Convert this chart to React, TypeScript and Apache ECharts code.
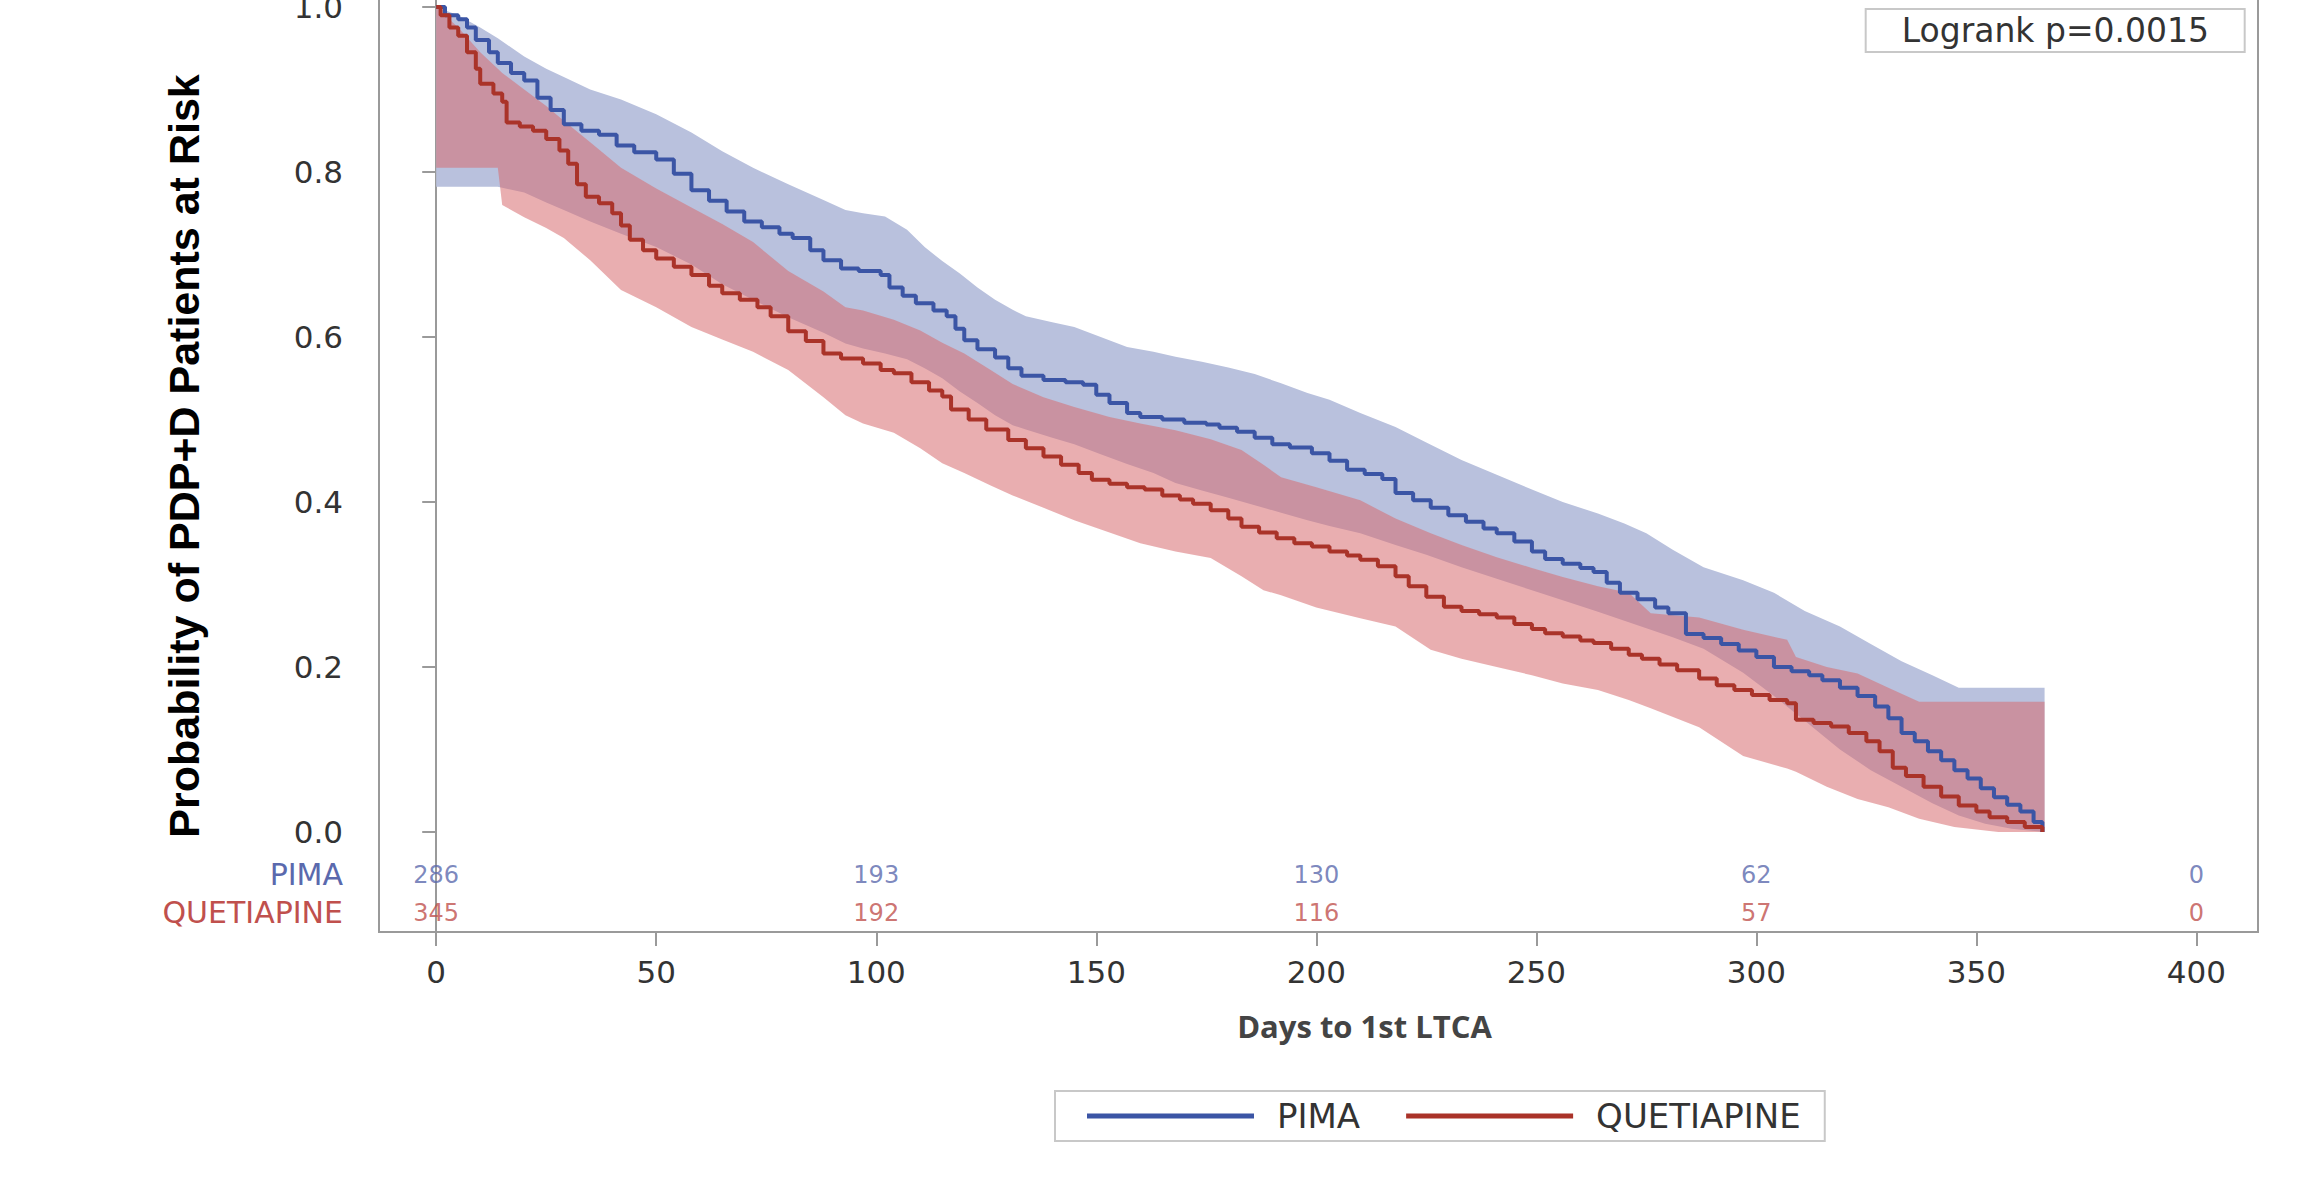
import React, { useEffect, useRef } from "react";
import * as echarts from "echarts";

// ---- Data ----
const pimaCurve: number[][] = [
  [0,1.0],[2,0.99],[5,0.985],[7,0.975],[9,0.96],[12,0.945],[14,0.932],[17,0.92],[20,0.911],[23,0.89],
  [26,0.875],[29,0.858],[33,0.85],[37,0.845],[41,0.832],[45,0.824],[50,0.815],[54,0.798],[58,0.778],[62,0.765],
  [66,0.752],[70,0.74],[74,0.733],[78,0.725],[81,0.72],[85,0.705],[88,0.693],[92,0.683],[96,0.68],[101,0.675],
  [103,0.66],[106,0.65],[109,0.641],[113,0.632],[116,0.625],[118,0.61],[120,0.596],[123,0.585],[127,0.575],[130,0.562],
  [133,0.553],[138,0.548],[143,0.545],[147,0.542],[150,0.53],[153,0.52],[157,0.508],[160,0.503],[165,0.5],[170,0.496],
  [175,0.494],[178,0.49],[182,0.485],[186,0.478],[190,0.47],[194,0.466],[199,0.459],[203,0.45],[207,0.439],[211,0.434],
  [215,0.428],[218,0.411],[222,0.402],[226,0.393],[230,0.384],[234,0.376],[238,0.368],[241,0.362],[245,0.352],[249,0.34],
  [252,0.331],[256,0.325],[260,0.32],[263,0.315],[266,0.302],[269,0.29],[273,0.282],[277,0.272],[280,0.265],[284,0.24],
  [288,0.235],[292,0.228],[296,0.22],[300,0.212],[304,0.2],[308,0.195],[312,0.19],[315,0.184],[319,0.175],[323,0.165],
  [327,0.152],[330,0.138],[333,0.12],[336,0.11],[339,0.098],[342,0.087],[345,0.075],[348,0.065],[351,0.053],[354,0.042],
  [357,0.033],[360,0.025],[363,0.012],[365,0.0]
];

const quetCurve: number[][] = [
  [0,1.0],[1,0.99],[3,0.975],[5,0.965],[7,0.945],[9,0.925],[10,0.907],[13,0.895],[15,0.885],[16,0.86],
  [19,0.855],[22,0.85],[25,0.84],[28,0.826],[30,0.81],[32,0.785],[34,0.77],[37,0.762],[40,0.75],[42,0.735],
  [44,0.718],[47,0.705],[50,0.695],[54,0.685],[58,0.675],[62,0.662],[65,0.653],[69,0.645],[73,0.636],[76,0.625],
  [80,0.607],[84,0.595],[88,0.58],[92,0.574],[97,0.568],[101,0.56],[104,0.556],[108,0.545],[112,0.535],[115,0.528],
  [117,0.512],[121,0.5],[125,0.488],[130,0.475],[134,0.465],[138,0.455],[142,0.445],[146,0.435],[149,0.427],[153,0.422],
  [157,0.418],[161,0.415],[165,0.408],[169,0.403],[172,0.398],[176,0.39],[180,0.38],[183,0.37],[187,0.363],[191,0.356],
  [195,0.35],[199,0.346],[203,0.34],[207,0.335],[210,0.33],[214,0.322],[218,0.31],[221,0.298],[225,0.285],[229,0.273],
  [233,0.268],[237,0.264],[241,0.26],[245,0.252],[249,0.246],[252,0.241],[256,0.237],[260,0.232],[263,0.229],[267,0.222],
  [271,0.215],[274,0.21],[278,0.203],[282,0.196],[287,0.186],[291,0.178],[295,0.172],[299,0.166],[303,0.16],[307,0.156],
  [309,0.136],[313,0.132],[317,0.128],[321,0.12],[325,0.11],[328,0.098],[331,0.078],[334,0.068],[338,0.055],[342,0.043],
  [346,0.032],[350,0.025],[353,0.018],[357,0.012],[361,0.006],[365,0.0]
];

// [day, lower, upper]
const pimaBand: number[][] = [
  [0,0.782,1.0],[5,0.782,0.99],[10,0.782,0.975],[14,0.782,0.962],[20,0.775,0.94],[25,0.763,0.925],[29,0.754,0.915],
  [35,0.74,0.9],[42,0.725,0.888],[50,0.709,0.87],[58,0.688,0.848],[65,0.664,0.825],[72,0.645,0.805],[80,0.624,0.785],
  [88,0.605,0.766],[93,0.592,0.754],[97,0.586,0.75],[102,0.58,0.746],[107,0.573,0.73],[111,0.562,0.709],[115,0.55,0.692],
  [119,0.534,0.677],[123,0.52,0.66],[127,0.505,0.645],[131,0.493,0.633],[134,0.488,0.625],[140,0.478,0.618],[145,0.47,0.612],
  [151,0.458,0.6],[157,0.446,0.588],[163,0.435,0.582],[168,0.423,0.576],[174,0.414,0.57],[180,0.405,0.563],[186,0.396,0.555],
  [192,0.387,0.544],[198,0.378,0.532],[203,0.371,0.524],[210,0.362,0.508],[218,0.348,0.491],[225,0.336,0.472],[233,0.321,0.451],
  [241,0.307,0.433],[249,0.293,0.415],[256,0.281,0.4],[264,0.267,0.386],[270,0.256,0.374],[275,0.247,0.362],[281,0.236,0.342],
  [288,0.222,0.321],[297,0.193,0.305],[304,0.165,0.29],[311,0.135,0.268],[319,0.1,0.249],[326,0.075,0.228],[333,0.055,0.207],
  [340,0.035,0.19],[346,0.02,0.175],[352,0.01,0.175],[358,0.004,0.175],[365.5,0,0.175]
];

const quetBand: number[][] = [
  [0,0.805,1.0],[5,0.805,0.975],[10,0.805,0.945],[14,0.805,0.925],[15,0.76,0.92],[20,0.745,0.9],[25,0.732,0.88],
  [29,0.72,0.862],[35,0.693,0.836],[42,0.657,0.805],[50,0.636,0.78],[58,0.612,0.757],[65,0.597,0.737],[72,0.582,0.715],
  [80,0.56,0.68],[88,0.527,0.655],[93,0.505,0.636],[97,0.495,0.632],[104,0.484,0.621],[110,0.465,0.608],[115,0.447,0.593],
  [120,0.435,0.58],[126,0.42,0.56],[131,0.408,0.543],[138,0.393,0.527],[145,0.378,0.515],[153,0.363,0.503],[160,0.35,0.495],
  [168,0.34,0.487],[176,0.332,0.476],[183,0.31,0.463],[188,0.293,0.445],[192,0.287,0.43],[200,0.272,0.418],[210,0.259,0.402],
  [218,0.249,0.38],[226,0.221,0.362],[233,0.21,0.348],[241,0.2,0.333],[249,0.19,0.32],[256,0.18,0.309],[264,0.172,0.298],
  [271,0.16,0.29],[276,0.15,0.265],[287,0.127,0.26],[297,0.092,0.245],[307,0.077,0.233],[309,0.073,0.212],[316,0.055,0.2],
  [323,0.04,0.192],[330,0.03,0.175],[337,0.016,0.158],[345,0.006,0.158],[355,0,0.158],[365.5,0,0.158]
];

const riskDays = [0, 100, 200, 300, 400];
const pimaRisk = [286, 193, 130, 62, 0];
const quetRisk = [345, 192, 116, 57, 0];

const xTicks = [0, 50, 100, 150, 200, 250, 300, 350, 400];
const yTicks = [0, 0.2, 0.4, 0.6, 0.8, 1.0];

const groupNames = ["PIMA", "QUETIAPINE"];
const logrankText = "Logrank p=0.0015";

// ---- Styling ----
const BLUE_LINE = "#3b55a5";
const RED_LINE = "#aa3329";
const BLUE_TEXT = "#5a69ad";
const RED_TEXT = "#c0504d";
const BLUE_BAND = "#b9c1dd";
const RED_BAND = "rgba(215,108,112,0.55)";
const AXIS_GREY = "#9a9a9a";
const PIMA_ROW_Y = -0.052;
const QUET_ROW_Y = -0.098;

// Confidence band drawn as one polygon, positioned through the axes (api.coord)
function bandSeries(band: number[][], color: string) {
  return {
    type: "custom",
    silent: true,
    z: 1,
    data: [[band[0][0], band[0][2]]],
    encode: { x: 0, y: 1 },
    renderItem: (params: any, api: any) => {
      if (params.dataIndex !== 0) return null;
      const upper = band.map((b) => api.coord([b[0], b[2]]));
      const lower = band.slice().reverse().map((b) => api.coord([b[0], b[1]]));
      return {
        type: "polygon",
        shape: { points: upper.concat(lower) },
        style: { fill: color, stroke: "none" },
      };
    },
  };
}

function riskSeries(values: number[], rowY: number, color: string) {
  return {
    type: "scatter",
    silent: true,
    clip: false,
    symbolSize: 1,
    itemStyle: { color: "rgba(0,0,0,0)" },
    data: riskDays.map((d, i) => [d, rowY, values[i]]),
    label: {
      show: true,
      position: "inside",
      formatter: (p: any) => String(p.value[2]),
      color,
      fontSize: 24,
    },
    z: 6,
  };
}

export default function App() {
  const ref = useRef<HTMLDivElement>(null);

  useEffect(() => {
    if (!ref.current) return;
    const chart = echarts.init(ref.current, null, { renderer: "svg" });

    const option: any = {
      animation: false,
      backgroundColor: "#ffffff",
      textStyle: { fontFamily: '"DejaVu Sans", sans-serif' },
      title: {
        text: logrankText,
        right: 60,
        top: 9,
        padding: [5, 36],
        borderColor: "#c8c8c8",
        borderWidth: 2,
        textStyle: { fontSize: 33, fontWeight: "normal", color: "#333", fontFamily: '"DejaVu Sans", sans-serif' },
      },
      legend: {
        data: groupNames,
        left: 1055,
        top: 1091,
        padding: [8, 24, 8, 32],
        itemGap: 46,
        icon: "rect",
        itemWidth: 167,
        itemHeight: 5,
        borderColor: "#c8c8c8",
        borderWidth: 2,
        textStyle: { fontSize: 34, color: "#333", padding: [0, 0, 0, 18] },
      },
      grid: {
        left: 379,
        right: 47,
        top: -20,
        bottom: 245,
        show: true,
        borderColor: AXIS_GREY,
        borderWidth: 2,
        containLabel: false,
        outerBoundsMode: "none",
      },
      xAxis: {
        type: "value",
        min: -13,
        max: 414,
        name: "Days to 1st LTCA",
        nameLocation: "middle",
        nameGap: 78,
        nameMoveOverlap: false,
        nameTextStyle: {
          fontSize: 31,
          fontWeight: "bold",
          color: "#444",
          fontFamily: '"Open Sans", sans-serif',
          padding: [0, 0, 0, 92],
        },
        axisLine: { show: true, onZero: false, lineStyle: { color: AXIS_GREY, width: 2 } },
        axisTick: { show: true, length: 14, customValues: xTicks, lineStyle: { color: AXIS_GREY, width: 2 } },
        axisLabel: { customValues: xTicks, margin: 24, fontSize: 31, color: "#333" },
        splitLine: { show: false },
      },
      yAxis: {
        type: "value",
        min: -0.1212,
        max: 1.0327,
        name: "Probability of PDP+D Patients at Risk",
        nameLocation: "middle",
        nameGap: 174,
        nameMoveOverlap: false,
        nameTextStyle: {
          fontSize: 43,
          fontWeight: "bold",
          color: "#000",
          fontFamily: '"Liberation Sans", Arial, sans-serif',
        },
        axisLine: { show: true, lineStyle: { color: AXIS_GREY, width: 2 } },
        axisTick: { show: true, length: 14, customValues: yTicks, lineStyle: { color: AXIS_GREY, width: 2 } },
        axisLabel: {
          customValues: [QUET_ROW_Y, PIMA_ROW_Y, ...yTicks],
          margin: 36,
          fontSize: 31,
          color: "#333",
          formatter: (v: number) => {
            if (Math.abs(v - PIMA_ROW_Y) < 1e-6) return "{p|" + groupNames[0] + "}";
            if (Math.abs(v - QUET_ROW_Y) < 1e-6) return "{q|" + groupNames[1] + "}";
            return v.toFixed(1);
          },
          rich: {
            p: { color: BLUE_TEXT, fontSize: 30 },
            q: { color: RED_TEXT, fontSize: 30 },
          },
        },
        splitLine: { show: false },
      },
      series: [
        bandSeries(pimaBand, BLUE_BAND),
        bandSeries(quetBand, RED_BAND),
        {
          name: groupNames[0],
          type: "line",
          step: "end",
          symbol: "none",
          data: pimaCurve,
          lineStyle: { color: BLUE_LINE, width: 4 },
          itemStyle: { color: BLUE_LINE },
          z: 5,
        },
        {
          name: groupNames[1],
          type: "line",
          step: "end",
          symbol: "none",
          data: quetCurve,
          lineStyle: { color: RED_LINE, width: 4 },
          itemStyle: { color: RED_LINE },
          z: 5,
        },
        riskSeries(pimaRisk, PIMA_ROW_Y, BLUE_TEXT),
        riskSeries(quetRisk, QUET_ROW_Y, RED_TEXT),
      ],
    };

    chart.setOption(option);
    return () => chart.dispose();
  }, []);

  return (
    <div
      ref={ref}
      style={{ position: "fixed", left: 0, top: 0, width: 2305, height: 1177, background: "#fff" }}
    />
  );
}
